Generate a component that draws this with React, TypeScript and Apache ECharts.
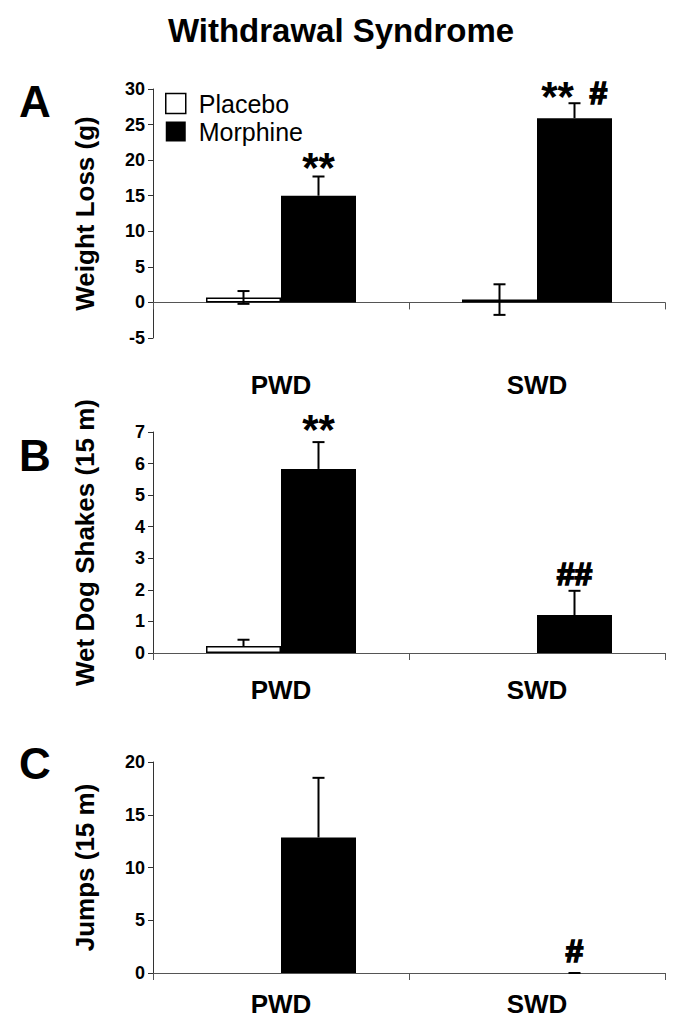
import React, { useEffect, useRef } from "react";
import * as echarts from "echarts";

const categories = ["PWD", "SWD"];
const seriesNames = ["Placebo", "Morphine"];

// Panel A: Weight Loss (g)
const weightPlacebo = [0.7, 0.4];
const weightPlaceboErr = [0.9, 2.15];
const weightMorphine = [15.0, 25.9];
const weightMorphineErr = [2.7, 2.1];
const weightStars = ["**", "**"];
const weightHash = ["", "#"];
const weightMarkY = [19.5, 29.4];

// Panel B: Wet Dog Shakes (15 m)
const shakesPlacebo = [0.22, 0];
const shakesPlaceboErr: (number | null)[] = [0.2, null];
const shakesMorphine = [5.83, 1.2];
const shakesMorphineErr = [0.85, 0.77];
const shakesStars = ["**", ""];
const shakesHash = ["", "##"];
const shakesMarkY = [7.2, 2.5];

// Panel C: Jumps (15 m)
const jumpsPlacebo = [0, 0];
const jumpsPlaceboErr: (number | null)[] = [null, null];
const jumpsMorphine = [12.85, 0];
const jumpsMorphineErr = [5.65, 0];
const jumpsStars = ["", ""];
const jumpsHash = ["", "#"];
const jumpsMarkY = [0, 2.1];

const FONT = "Liberation Sans, Arial, sans-serif";
const BAR_W = 75;
const HALF = BAR_W / 2;
const CAP = 6;
const STAR_SIZE = 42;
const HASH_SIZE = 32;

export default function App() {
  const ref = useRef<HTMLDivElement>(null);
  useEffect(() => {
    if (!ref.current) return;
    const chart = echarts.init(ref.current, null, { renderer: "svg" });

    const grids = [
      { left: 153, right: 17, top: 89, height: 249 },
      { left: 153, right: 17, top: 432, height: 221 },
      { left: 153, right: 17, top: 762, height: 211 },
    ];

    const yCfg = [
      { min: -5, max: 30, interval: 5, name: "Weight Loss (g)" },
      { min: 0, max: 7, interval: 1, name: "Wet Dog Shakes (15 m)" },
      { min: 0, max: 20, interval: 5, name: "Jumps (15 m)" },
    ];

    const panels = [
      { p: weightPlacebo, pe: weightPlaceboErr, m: weightMorphine, me: weightMorphineErr, stars: weightStars, hash: weightHash, markY: weightMarkY, both: true, labelMargin: 34 },
      { p: shakesPlacebo, pe: shakesPlaceboErr, m: shakesMorphine, me: shakesMorphineErr, stars: shakesStars, hash: shakesHash, markY: shakesMarkY, both: false, labelMargin: 24 },
      { p: jumpsPlacebo, pe: jumpsPlaceboErr, m: jumpsMorphine, me: jumpsMorphineErr, stars: jumpsStars, hash: jumpsHash, markY: jumpsMarkY, both: false, labelMargin: 18 },
    ];

    const axisLineStyle = { color: "#333", width: 1 };

    const xAxes: any[] = [];
    const yAxes: any[] = [];
    const series: any[] = [];

    panels.forEach((pn, i) => {
      xAxes.push({
        type: "category",
        gridIndex: i,
        data: categories,
        axisLine: { show: true, onZero: true, lineStyle: { color: "#555", width: 1 } },
        axisTick: { show: true, length: 7, inside: false, lineStyle: { color: "#555" } },
        axisLabel: { show: false },
      });
      xAxes.push({
        type: "category",
        gridIndex: i,
        position: "bottom",
        data: categories,
        axisLine: { show: false, onZero: false },
        axisTick: { show: false },
        axisLabel: { show: true, margin: pn.labelMargin, color: "#000", fontFamily: FONT, fontWeight: "bold", fontSize: 26 },
      });
      yAxes.push({
        type: "value",
        gridIndex: i,
        min: yCfg[i].min,
        max: yCfg[i].max,
        interval: yCfg[i].interval,
        name: yCfg[i].name,
        nameLocation: "middle",
        nameGap: 55,
        nameTextStyle: { color: "#000", fontFamily: FONT, fontWeight: "bold", fontSize: 26 },
        splitLine: { show: false },
        axisLine: { show: true, lineStyle: axisLineStyle },
        axisTick: { show: true, length: 5, lineStyle: axisLineStyle },
        axisLabel: { color: "#000", fontFamily: FONT, fontWeight: "bold", fontSize: 18, margin: 8 },
      });

      const xIdx = i * 2;
      series.push({
        type: "bar",
        name: seriesNames[0],
        xAxisIndex: xIdx,
        yAxisIndex: i,
        barWidth: BAR_W,
        barGap: "0%",
        itemStyle: { color: "#fff", borderColor: "#000", borderWidth: 1.5 },
        data: pn.p.map((v) => (v === 0 ? { value: v, itemStyle: { borderWidth: 0 } } : v)),
      });
      series.push({
        type: "bar",
        name: seriesNames[1],
        xAxisIndex: xIdx,
        yAxisIndex: i,
        barWidth: BAR_W,
        barGap: "0%",
        itemStyle: { color: "#000" },
        data: pn.m,
      });

      const errData: any[] = [];
      pn.p.forEach((v, c) => {
        const e = pn.pe[c];
        if (e !== null && e !== undefined) errData.push([c, v, e, -1, pn.both ? 1 : 0]);
      });
      pn.m.forEach((v, c) => {
        const e = pn.me[c];
        if (e !== null && e !== undefined) errData.push([c, v, e, 1, 0]);
      });

      series.push({
        type: "custom",
        xAxisIndex: xIdx,
        yAxisIndex: i,
        silent: true,
        clip: false,
        z: 5,
        data: errData,
        renderItem: (params: any, api: any) => {
          const c = api.value(0);
          const v = api.value(1);
          const e = api.value(2);
          const side = api.value(3);
          const both = api.value(4);
          const base = api.coord([c, v]);
          const x = base[0] + side * HALF;
          const top = api.coord([c, v + e])[1];
          const bot = both ? api.coord([c, v - e])[1] : base[1];
          const st = { stroke: "#000", lineWidth: 2 };
          const children: any[] = [
            { type: "line", shape: { x1: x, y1: bot, x2: x, y2: top }, style: st },
            { type: "line", shape: { x1: x - CAP, y1: top, x2: x + CAP, y2: top }, style: st },
          ];
          if (both) children.push({ type: "line", shape: { x1: x - CAP, y1: bot, x2: x + CAP, y2: bot }, style: st });
          return { type: "group", children };
        },
      });

      // significance marks above the morphine bars
      series.push({
        type: "custom",
        xAxisIndex: xIdx,
        yAxisIndex: i,
        silent: true,
        clip: false,
        z: 6,
        data: pn.markY.map((y, c) => [c, y]),
        renderItem: (params: any, api: any) => {
          const idx = params.dataIndex;
          const s = pn.stars[idx];
          const h = pn.hash[idx];
          const pt = api.coord([api.value(0), api.value(1)]);
          const x = pt[0] + HALF;
          const y = pt[1];
          const children: any[] = [];
          const sx = s && h ? x - 17 : x;
          const hx = s && h ? x + 24 : x;
          if (s) {
            children.push({
              type: "text",
              x: sx,
              y: y + STAR_SIZE * 0.08,
              style: { text: s, fill: "#000", font: `bold ${STAR_SIZE}px ${FONT}`, align: "center", verticalAlign: "middle" },
            });
          }
          if (h) {
            children.push({
              type: "text",
              x: hx,
              y: y,
              style: { text: h, fill: "#000", stroke: "#000", lineWidth: 1.6, font: `bold ${HASH_SIZE}px ${FONT}`, align: "center", verticalAlign: "middle" },
            });
          }
          return { type: "group", children };
        },
      });
    });

    chart.setOption({
      animation: false,
      backgroundColor: "#fff",
      title: [
        { text: "Withdrawal Syndrome", left: "center", top: 9, textStyle: { fontFamily: FONT, fontWeight: "bold", fontSize: 33, color: "#000" } },
        { text: "A", left: 14, top: 74, textStyle: { fontFamily: FONT, fontWeight: "bold", fontSize: 44, color: "#000" } },
        { text: "B", left: 14, top: 428, textStyle: { fontFamily: FONT, fontWeight: "bold", fontSize: 44, color: "#000" } },
        { text: "C", left: 14, top: 736, textStyle: { fontFamily: FONT, fontWeight: "bold", fontSize: 44, color: "#000" } },
      ],
      legend: {
        orient: "vertical",
        left: 160,
        top: 86,
        itemWidth: 20,
        itemHeight: 20,
        itemGap: 3,
        textStyle: { fontFamily: FONT, fontSize: 25, color: "#000", padding: [0, 0, 0, 8] },
        data: [
          { name: "Placebo", icon: "rect", itemStyle: { color: "#fff", borderColor: "#000", borderWidth: 1.5 } },
          { name: "Morphine", icon: "rect", itemStyle: { color: "#000" } },
        ],
      },
      grid: grids,
      xAxis: xAxes,
      yAxis: yAxes,
      series,
    });

    return () => chart.dispose();
  }, []);

  return <div ref={ref} style={{ width: 682, height: 1026, position: "absolute", left: 0, top: 0 }} />;
}
